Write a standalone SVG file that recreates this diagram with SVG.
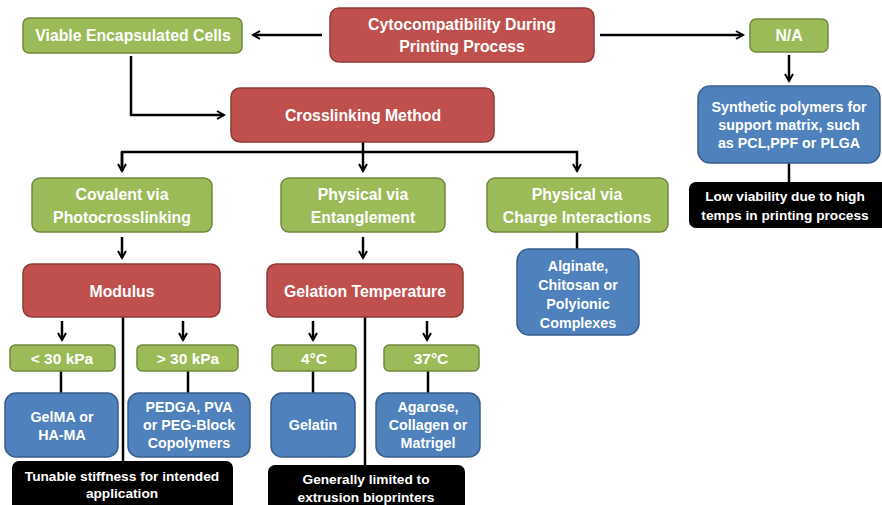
<svg xmlns="http://www.w3.org/2000/svg" width="882" height="505" viewBox="0 0 882 505">
  <style>
    .red { fill: #c0504d; stroke: #8e3a38; stroke-width: 1.5; }
    .green { fill: #9bbb59; stroke: #71893f; stroke-width: 1.5; }
    .blue { fill: #4f81bd; stroke: #385d8a; stroke-width: 1.5; }
    .black { fill: #000000; }
    text { font-family: "Liberation Sans", Arial, sans-serif; font-weight: bold; fill: #ffffff; text-anchor: middle; }
    .t14 { font-size: 15.8px; }
    .tsm { font-size: 15.5px; }
    .t12 { font-size: 14.3px; }
    .t11 { font-size: 13.7px; }
    .conn { fill: none; stroke: #000000; stroke-width: 2.5; }
  </style>
  <defs>
    <marker id="arrow" viewBox="0 0 10 10" refX="8" refY="5" markerWidth="4" markerHeight="4" orient="auto" markerUnits="strokeWidth">
      <path d="M1,1 L8,5 L1,9" fill="none" stroke="#000000" stroke-width="2"/>
    </marker>
  </defs>

  <rect width="882" height="505" fill="#ffffff"/>

  <!-- connectors -->
  <g id="connectors">
    <line class="conn" x1="322" y1="35" x2="253" y2="35" marker-end="url(#arrow)"/>
    <line class="conn" x1="600" y1="35" x2="743" y2="35" marker-end="url(#arrow)"/>
    <line class="conn" x1="789" y1="55" x2="789" y2="81" marker-end="url(#arrow)"/>
    <line class="conn" x1="789" y1="163" x2="789" y2="183"/>
    <polyline class="conn" points="131,56 131,115 224,115" marker-end="url(#arrow)"/>
    <line class="conn" x1="363" y1="142" x2="363" y2="171" marker-end="url(#arrow)"/>
    <polyline class="conn" points="122,171 122,152 577,152 577,171" marker-end="url(#arrow)"/>
    <line class="conn" x1="122" y1="152" x2="122" y2="171" marker-end="url(#arrow)"/>
    <line class="conn" x1="122" y1="237" x2="122" y2="258" marker-end="url(#arrow)"/>
    <line class="conn" x1="363" y1="237" x2="363" y2="258" marker-end="url(#arrow)"/>
    <line class="conn" x1="577" y1="232" x2="577" y2="250"/>
    <line class="conn" x1="62" y1="321" x2="62" y2="340" marker-end="url(#arrow)"/>
    <line class="conn" x1="183" y1="321" x2="183" y2="340" marker-end="url(#arrow)"/>
    <line class="conn" x1="123" y1="317" x2="123" y2="462"/>
    <line class="conn" x1="313" y1="321" x2="313" y2="340" marker-end="url(#arrow)"/>
    <line class="conn" x1="427" y1="321" x2="427" y2="340" marker-end="url(#arrow)"/>
    <line class="conn" x1="365" y1="317" x2="365" y2="466"/>
    <line class="conn" x1="61" y1="371" x2="61" y2="393"/>
    <line class="conn" x1="188" y1="371" x2="188" y2="393"/>
    <line class="conn" x1="313" y1="371" x2="313" y2="393"/>
    <line class="conn" x1="428" y1="371" x2="428" y2="393"/>
  </g>

  <g id="cytocompatibility">
    <rect class="red" x="330" y="8" width="264" height="54" rx="9"/>
    <text class="t14" x="462" y="30">Cytocompatibility During</text>
    <text class="t14" x="462" y="52">Printing Process</text>
  </g>
  <g id="viable-cells">
    <rect class="green" x="23" y="18" width="219" height="35" rx="6"/>
    <text class="t14" x="133" y="41">Viable Encapsulated Cells</text>
  </g>
  <g id="na">
    <rect class="green" x="750" y="19" width="78" height="33" rx="6"/>
    <text class="t14" x="789" y="41">N/A</text>
  </g>
  <g id="synthetic-polymers">
    <rect class="blue" x="698" y="86" width="182" height="77" rx="12"/>
    <text class="t12" x="789" y="112">Synthetic polymers for</text>
    <text class="t12" x="789" y="130">support matrix, such</text>
    <text class="t12" x="789" y="148">as PCL,PPF or PLGA</text>
  </g>
  <g id="low-viability">
    <rect class="black" x="689" y="182" width="200" height="46" rx="7"/>
    <text class="t11" x="785" y="201">Low viability due to high</text>
    <text class="t11" x="785" y="220">temps in printing process</text>
  </g>
  <g id="crosslinking-method">
    <rect class="red" x="231" y="88" width="263" height="54" rx="9"/>
    <text class="t14" x="363" y="121">Crosslinking Method</text>
  </g>
  <g id="covalent">
    <rect class="green" x="32" y="178" width="180" height="54" rx="8"/>
    <text class="t14" x="122" y="200">Covalent via</text>
    <text class="t14" x="122" y="223">Photocrosslinking</text>
  </g>
  <g id="entanglement">
    <rect class="green" x="281" y="178" width="164" height="54" rx="8"/>
    <text class="t14" x="363" y="200">Physical via</text>
    <text class="t14" x="363" y="223">Entanglement</text>
  </g>
  <g id="charge-interactions">
    <rect class="green" x="487" y="178" width="181" height="54" rx="8"/>
    <text class="t14" x="577" y="200">Physical via</text>
    <text class="t14" x="577" y="223">Charge Interactions</text>
  </g>
  <g id="alginate">
    <rect class="blue" x="517" y="249" width="122" height="86" rx="12"/>
    <text class="t12" x="578" y="271">Alginate,</text>
    <text class="t12" x="578" y="290">Chitosan or</text>
    <text class="t12" x="578" y="309">Polyionic</text>
    <text class="t12" x="578" y="328">Complexes</text>
  </g>
  <g id="modulus">
    <rect class="red" x="23" y="264" width="197" height="53" rx="9"/>
    <text class="t14" x="122" y="297">Modulus</text>
  </g>
  <g id="gelation-temperature">
    <rect class="red" x="267" y="264" width="196" height="53" rx="9"/>
    <text class="t14" x="365" y="297">Gelation Temperature</text>
  </g>
  <g id="below-30">
    <rect class="green" x="10" y="345" width="105" height="26" rx="5"/>
    <text class="tsm" x="62" y="364">&lt; 30 kPa</text>
  </g>
  <g id="above-30">
    <rect class="green" x="137" y="345" width="101" height="26" rx="5"/>
    <text class="tsm" x="188" y="364">&gt; 30 kPa</text>
  </g>
  <g id="four-c">
    <rect class="green" x="272" y="345" width="84" height="26" rx="5"/>
    <text class="tsm" x="314" y="364">4°C</text>
  </g>
  <g id="thirtyseven-c">
    <rect class="green" x="384" y="345" width="95" height="26" rx="5"/>
    <text class="tsm" x="431" y="364">37°C</text>
  </g>
  <g id="gelma">
    <rect class="blue" x="5" y="393" width="113" height="64" rx="11"/>
    <text class="t12" x="62" y="422">GelMA or</text>
    <text class="t12" x="62" y="440">HA-MA</text>
  </g>
  <g id="pedga">
    <rect class="blue" x="128" y="393" width="122" height="64" rx="11"/>
    <text class="t12" x="189" y="412">PEDGA, PVA</text>
    <text class="t12" x="189" y="430">or PEG-Block</text>
    <text class="t12" x="189" y="448">Copolymers</text>
  </g>
  <g id="gelatin">
    <rect class="blue" x="271" y="393" width="84" height="64" rx="11"/>
    <text class="t12" x="313" y="430">Gelatin</text>
  </g>
  <g id="agarose">
    <rect class="blue" x="376" y="393" width="104" height="64" rx="11"/>
    <text class="t12" x="428" y="412">Agarose,</text>
    <text class="t12" x="428" y="430">Collagen or</text>
    <text class="t12" x="428" y="448">Matrigel</text>
  </g>
  <g id="tunable-stiffness">
    <rect class="black" x="12" y="461" width="221" height="52" rx="7"/>
    <text class="t11" x="122" y="481">Tunable stiffness for intended</text>
    <text class="t11" x="122" y="498">application</text>
  </g>
  <g id="extrusion-limit">
    <rect class="black" x="268" y="465" width="197" height="48" rx="7"/>
    <text class="t11" x="366" y="484">Generally limited to</text>
    <text class="t11" x="366" y="502">extrusion bioprinters</text>
  </g>
</svg>
